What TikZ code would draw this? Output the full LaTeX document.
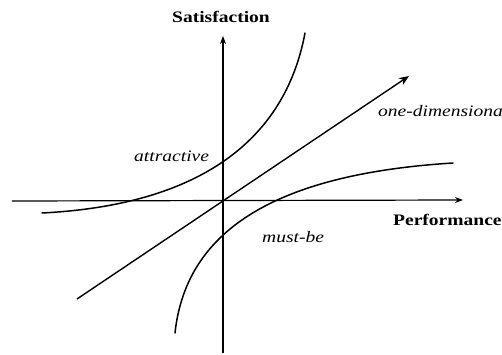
\documentclass[tikz,border=0pt]{standalone}
\usepackage{fontspec}
\setmainfont{Liberation Serif}
\usetikzlibrary{arrows.meta}
\begin{document}
\begin{tikzpicture}[x=1pt,y=-1pt,
  axis/.style={line width=1.2pt, -{Stealth[length=8pt,width=6pt]}},
  diag/.style={line width=1.4pt, -{Stealth[length=10pt,width=8pt]}},
  curve/.style={line width=1.5pt, line cap=round},
  axlabel/.style={font=\fontsize{16}{18}\selectfont\bfseries, inner sep=0pt},
  crvlabel/.style={font=\fontsize{16}{18}\selectfont\itshape, inner sep=0pt}]
\useasboundingbox (0,0) rectangle (502,355);
\clip (0,0) rectangle (502,355);
% axes
\coordinate (vb) at (223,353);
\coordinate (vt) at (223,36);
\coordinate (hl) at (12,201);
\coordinate (hr) at (463,200);
\draw[axis] (vb) -- (vt);
\draw[axis] (hl) -- (hr);
% one-dimensional line
\coordinate (db) at (77,299);
\coordinate (dt) at (409,76);
\draw[diag] (db) -- (dt);
% attractive curve
\coordinate (a0) at (42,213);
\coordinate (a1) at (305,33);
\draw[curve] (a0) .. controls (200,205) and (285,140) .. (a1);
% must-be curve
\coordinate (m0) at (175,333);
\coordinate (m1) at (453,163);
\draw[curve] (m0) .. controls (185,240) and (260,175) .. (m1);
% labels
\node[axlabel] (sat) at (221,17) {\scalebox{1.22}[1]{Satisfaction}};
\node[axlabel, anchor=base west] (perf) at (393,225) {\scalebox{1.22}[1]{Performance}};
\node[crvlabel, anchor=base west] (attr) at (134,162) {\scalebox{1.22}[1]{attractive}};
\node[crvlabel, anchor=base west] (must) at (262,242) {\scalebox{1.22}[1]{must-be}};
\node[crvlabel, anchor=base west] (oned) at (378,117) {\scalebox{1.22}[1]{one-dimensional}};
\end{tikzpicture}
\end{document}
